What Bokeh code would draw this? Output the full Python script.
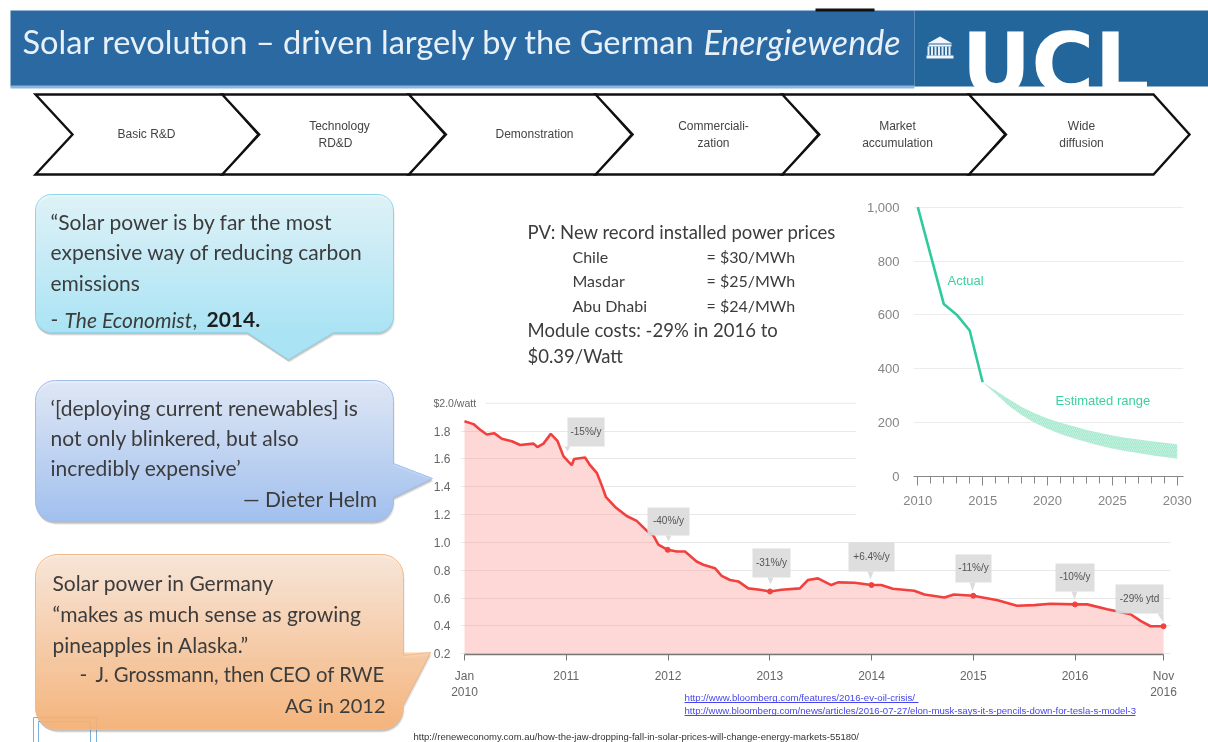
from bokeh.plotting import figure
from bokeh.models import Range1d, FixedTicker
from bokeh.core.properties import value
from bokeh.embed import file_html
from bokeh.resources import INLINE
import math

# ---------- data ----------
price_years = [2010.00,2010.088,2010.154,2010.219,2010.291,2010.367,2010.465,2010.547,2010.678,2010.717,2010.776,2010.848,2010.913,2010.972,
 2011.021,2011.054,2011.077,2011.185,2011.234,2011.300,2011.349,2011.391,2011.480,2011.594,2011.692,2011.790,2011.856,2011.905,2011.997,
 2012.085,2012.167,2012.281,2012.347,2012.461,2012.527,2012.609,2012.691,2012.789,2012.903,2013.002,2013.116,2013.296,2013.376,2013.474,2013.605,2013.67,2013.833,
 2014.0,2014.095,2014.21,2014.42,2014.52,2014.716,2014.81,2015.0,2015.24,2015.43,2015.6,2015.76,2016.0,2016.12,2016.317,2016.546,2016.644,2016.742,2016.87]
price_values = [1.87,1.85,1.81,1.775,1.785,1.745,1.727,1.70,1.71,1.685,1.71,1.78,1.73,1.62,
 1.58,1.555,1.60,1.61,1.555,1.50,1.41,1.325,1.255,1.19,1.155,1.085,1.05,0.985,0.947,
 0.935,0.935,0.863,0.84,0.815,0.76,0.73,0.72,0.67,0.66,0.648,0.66,0.67,0.73,0.742,0.694,0.713,0.71,
 0.694,0.694,0.667,0.653,0.626,0.605,0.626,0.617,0.585,0.545,0.55,0.56,0.555,0.555,0.52,0.484,0.436,0.398,0.398]
dot_years = [2011.997,2013.002,2014.0,2015.0,2016.0,2016.87]
dot_values = [0.947,0.648,0.694,0.617,0.555,0.398]
price_ticks = [2010,2011,2012,2013,2014,2015,2016,2016.87]
price_tick_labels = ["Jan\n2010","2011","2012","2013","2014","2015","2016","Nov\n2016"]
price_y_ticks = [0.2,0.4,0.6,0.8,1.0,1.2,1.4,1.6,1.8]
price_callouts = ["-15%/y","-40%/y","-31%/y","+6.4%/y","-11%/y","-10%/y","-29% ytd"]

cost_years = [2010,2012,2013,2014,2015]
cost_values = [1000,641,601,542,350]
range_years = list(range(2015,2031))
range_upper = [350,319,288,258,235,215,200,187,173,162,152,144,137,131,125,120]
range_lower = [350,307,264,228,200,177,158,142,128,115,104,95,87,79,72,66]
cost_x_ticks = [2010,2015,2020,2025,2030]
cost_y_ticks = [0,200,400,600,800,1000]

stages = [["Basic R&D"],["Technology","RD&D"],["Demonstration"],["Commerciali-","zation"],["Market","accumulation"],["Wide","diffusion"]]

# ---------- slide canvas ----------
SANS = value("Lato")
ARIAL = value("Liberation Sans")
BLUR = "blur(0.55px)"
bg = figure(width=1208, height=742, x_range=Range1d(0,1208), y_range=Range1d(742,0),
            toolbar_location=None, output_backend="svg", min_border=0, outline_line_color=None,
            x_axis_location=None, y_axis_location=None,
            styles={"position":"absolute","left":"0px","top":"0px","filter":BLUR})
bg.grid.visible = False

def hexlerp(a,b,t):
    ca=[int(a[i:i+2],16) for i in (1,3,5)]; cb=[int(b[i:i+2],16) for i in (1,3,5)]
    return "#%02x%02x%02x"%tuple(round(x+(y-x)*t) for x,y in zip(ca,cb))

def rrect(x0,y0,x1,y1,r,tail=None,side=None):
    pts=[]
    for cx,cy,a0 in ((x1-r,y0+r,-90),(x1-r,y1-r,0),(x0+r,y1-r,90),(x0+r,y0+r,180)):
        if side=="right" and a0==0: pts+=tail
        for k in range(9):
            a=math.radians(a0+k*90/8)
            pts.append((cx+r*math.cos(a),cy+r*math.sin(a)))
        if side=="bottom" and a0==0: pts+=tail
    return pts

def span(pts,y):
    xs=[]
    n=len(pts)
    for i in range(n):
        (ax,ay),(bx,by)=pts[i],pts[(i+1)%n]
        if (ay<=y<by) or (by<=y<ay):
            xs.append(ax+(y-ay)/(by-ay)*(bx-ax))
    return (min(xs),max(xs)) if xs else None

def bubble(x0,y0,x1,y1,r,ctop,cbot,edge,tail,side):
    pts=rrect(x0,y0,x1,y1,r,tail,side)
    px=[p[0] for p in pts]; py=[p[1] for p in pts]
    bg.patch([a+1 for a in px],[b+3 for b in py],fill_color="#777777",fill_alpha=0.18,line_color=None)
    bg.patch([a for a in px],[b+2 for b in py],fill_color="#555555",fill_alpha=0.25,line_color=None)
    ymax=int(max(py))+1
    L,R,T,B,C=[],[],[],[],[]
    for y in range(int(y0),ymax):
        s=span(pts,y+0.5)
        if not s: continue
        L.append(s[0]);R.append(s[1]);T.append(y);B.append(y+1.2)
        C.append(hexlerp(ctop,cbot,min(1,(y-y0)/(y1-y0))))
    bg.quad(left=L,right=R,top=T,bottom=B,fill_color=C,line_color=None)
    bg.patch(px,py,fill_color=None,line_color=edge,line_width=1)

def txt(x,y,s,size,color="#3c3c3c",font=SANS,style="normal",align="left"):
    dy=-1.5 if font is SANS else 0
    bg.text([x],[y+dy],text=[s],text_font=font,text_font_size=f"{size}px",text_color=color,
            text_font_style=style,text_align=align,text_baseline="middle")

# header
bg.quad(left=[10],right=[914],top=[10],bottom=[86],fill_color="#2b69a3",line_color=None)
bg.quad(left=[914],right=[1208],top=[10],bottom=[86],fill_color="#23669b",line_color=None)
bg.quad(left=[10],right=[914],top=[85],bottom=[88],fill_color="#8fb6d8",line_color=None)
bg.quad(left=[815],right=[874],top=[8],bottom=[11],fill_color="#111111",line_color=None)
# UCL logo
bg.text([961],[63],text=["UCL"],text_font=value("DejaVu Sans"),text_font_style="bold",text_font_size="86px",
        text_color="#ffffff",text_baseline="alphabetic")
bg.quad(left=[914],right=[1208],top=[87],bottom=[93],fill_color="#ffffff",line_color=None)
# logo building
bg.patch([927,939.5,952],[43,36,43],fill_color="#f2f6fa",line_color=None)
bg.quad(left=[928],right=[951],top=[44],bottom=[46],fill_color="#f2f6fa",line_color=None)
bg.quad(left=[927+i*3.5 for i in range(7)],right=[929+i*3.5 for i in range(7)],top=[46]*7,bottom=[55]*7,fill_color="#e6eef5",line_color=None)
bg.quad(left=[926],right=[953],top=[55],bottom=[58],fill_color="#f2f6fa",line_color=None)
# title
txt(22,42,"Solar revolution – driven largely by the German",32.6,color="#e9f1f8")
txt(703,42,"Energiewende",34,color="#e9f1f8",style="italic")

# chevrons
for i,lines in enumerate(stages):
    s=35+i*186.7
    xs=[s,s+187.5,s+223,s+187.5,s,s+37]
    ys=[94,94,134,174,174,134]
    if i==5:
        xs=[s,1153,1189,1153,s,s+37]
    bg.patch(xs,ys,fill_color="#ffffff",line_color="#111111",line_width=2.4,line_join="miter")
centers=[146,339,534,713,897,1081]
for c,lines in zip(centers,stages):
    if len(lines)==1:
        txt(c,133.5,lines[0],12,color="#444444",font=ARIAL,align="center")
    else:
        txt(c,125.5,lines[0],12,color="#444444",font=ARIAL,align="center")
        txt(c if lines[1]!="RD&D" else c-4,142.5,lines[1],12,color="#444444",font=ARIAL,align="center")

# small shapes, bottom left
bg.quad(left=[33,38],right=[96,90],top=[717,721],bottom=[748,748],fill_color=None,line_color="#7fb0dc",line_width=1)

# speech bubbles
bubble(35,194,393,332,16,"#e3f8fe","#a6e8fb","#8fd4e6",[(333,332),(288,359),(247,332)],"bottom")
bubble(35,380,393,521,20,"#e3ecfc","#9cbff4","#a0bce8",[(393,463),(432,478),(393,497)],"right")
bubble(35,554,403,729,22,"#feeadb","#fbb272","#f2b98a",[(403,655),(430,652),(400,710)],"right")

BT=21
txt(50,222,"“Solar power is by far the most",BT)
txt(50,252,"expensive way of reducing carbon",BT)
txt(50,283,"emissions",BT)
txt(50,320,"-",BT)
txt(64,320,"The Economist",BT,style="italic")
txt(192,320,",",BT)
txt(206,320,"2014.",BT,style="bold",color="#1e1e1e")

txt(50,408,"‘[deploying current renewables] is",BT)
txt(50,438,"not only blinkered, but also",BT)
txt(50,468,"incredibly expensive’",BT)
txt(377,499,"— Dieter Helm",BT,align="right")

txt(52,583,"Solar power in Germany",BT)
txt(52,614,"“makes as much sense as growing",BT)
txt(52,645,"pineapples in Alaska.”",BT)
txt(79,675,"-",BT)
txt(95,675,"J. Grossmann, then CEO of RWE",20.3)
txt(385,706,"AG in 2012",20,align="right")

# centre text
txt(527,233,"PV: New record installed power prices",18.5)
for lab,val,y in (("Chile","= $30/MWh",257),("Masdar","= $25/MWh",281),("Abu Dhabi","= $24/MWh",306)):
    txt(572,y,lab,16); txt(706,y,val,16)
txt(527,331,"Module costs: -29% in 2016 to",18.5)
txt(527,357,"$0.39/Watt",18.5)

# links
link="#4646f0"
txt(684,697,"http://www.bloomberg.com/features/2016-ev-oil-crisis/",9.7,color=link,font=ARIAL)
txt(684,710,"http://www.bloomberg.com/news/articles/2016-07-27/elon-musk-says-it-s-pencils-down-for-tesla-s-model-3",9.6,color=link,font=ARIAL)
bg.segment(x0=[684,684],y0=[702,715],x1=[918,1135],y1=[702,715],line_color=link,line_width=1)
txt(413,736,"http://reneweconomy.com.au/how-the-jaw-dropping-fall-in-solar-prices-will-change-energy-markets-55180/",9.5,color="#333333",font=ARIAL)
txt(433,402,"$2.0/watt",10.5,color="#666666",font=ARIAL)

# ---------- price chart ----------
C1L,C1T,C1R,C1B=420,392,1180,705
PXY=101.75; PPY=139.2
def X1(px): return 2010+(px-464)/PXY
def Y1(py): return 0.195+(654-py)/PPY
p1=figure(width=C1R-C1L,height=C1B-C1T,x_range=Range1d(X1(460),X1(1170)),y_range=Range1d(Y1(654),Y1(395)),
          toolbar_location=None,output_backend="svg",background_fill_color=None,border_fill_color=None,
          outline_line_color=None,min_border_left=40,min_border_right=10,min_border_top=3,min_border_bottom=51,
          styles={"position":"absolute","left":f"{C1L}px","top":f"{C1T}px","filter":BLUR})
p1.xgrid.visible=False
p1.ygrid.ticker=FixedTicker(ticks=price_y_ticks)
p1.ygrid.grid_line_color="#e8e8e8"
p1.ygrid.bounds=(2010,2016.87)
p1.segment(x0=[X1(485)],y0=[2.0],x1=[2016.87],y1=[2.0],line_color="#e8e8e8",line_width=1)
p1.xaxis.ticker=FixedTicker(ticks=price_ticks)
p1.xaxis.major_label_overrides=dict(zip(price_ticks,price_tick_labels))
p1.xaxis.bounds=(2010,2016.87)
p1.xaxis.axis_line_color="#777777"; p1.xaxis.axis_line_width=1.5
p1.xaxis.major_tick_line_color="#777777"; p1.xaxis.major_tick_out=6; p1.xaxis.major_tick_in=0
p1.xaxis.minor_tick_line_color=None
p1.xaxis.major_label_text_font="Liberation Sans"; p1.xaxis.major_label_text_font_size="12px"
p1.xaxis.major_label_text_color="#666666"; p1.xaxis.major_label_standoff=8
p1.yaxis.ticker=FixedTicker(ticks=price_y_ticks)
p1.yaxis.major_label_overrides={v:("%.1f"%v) for v in price_y_ticks}
p1.yaxis.axis_line_color=None; p1.yaxis.major_tick_line_color=None; p1.yaxis.minor_tick_line_color=None
p1.yaxis.major_label_text_font="Liberation Sans"; p1.yaxis.major_label_text_font_size="12px"
p1.yaxis.major_label_text_color="#666666"; p1.yaxis.major_label_standoff=4
p1.varea(x=price_years,y1=[0.2]*len(price_years),y2=price_values,fill_color="#f9908a",fill_alpha=0.35)
p1.line(price_years,price_values,line_color="#f2403f",line_width=2.6)
p1.scatter(dot_years,dot_values,size=5,color="#f2403f")
boxes=[(567,604,417,446,567,451),(647,689,507,535,668,541),(752,790,548,577,770,584),(848,894,542,571,870,579),
       (955,991,554,582,972,591),(1055,1094,563,591,1074,599),(1115,1163,584,613,1163,622)]
for (l,r,t,b,tx,ty),lab in zip(boxes,price_callouts):
    p1.quad(left=[X1(l)],right=[X1(r)],top=[Y1(t)],bottom=[Y1(b)],fill_color="#dcdcdc",fill_alpha=0.93,line_color=None)
    p1.patch([X1(tx-3 if tx<r-3 else r-6),X1(tx),X1(tx+3 if tx<r-3 else r)],[Y1(b),Y1(ty),Y1(b)],fill_color="#dcdcdc",line_color=None)
    p1.text([X1((l+r)/2)],[Y1((t+b)/2-1)],text=[lab],text_font=ARIAL,text_font_size="10px",text_color="#555555",
            text_align="center",text_baseline="middle")

# ---------- cost chart ----------
C2L,C2T,C2R,C2B=855,195,1200,522
CX=12.97; CY=0.2693
def X2(px): return 2010+(px-917.3)/CX
p2=figure(width=C2R-C2L,height=C2B-C2T,x_range=Range1d(X2(913),X2(1183)),y_range=Range1d(0,(476-200)/CY),
          toolbar_location=None,output_backend="svg",background_fill_color="#ffffff",border_fill_color="#ffffff",
          outline_line_color=None,min_border_left=58,min_border_right=17,min_border_top=5,min_border_bottom=46,
          styles={"position":"absolute","left":f"{C2L}px","top":f"{C2T}px","filter":BLUR})
p2.xgrid.visible=False
p2.ygrid.ticker=FixedTicker(ticks=cost_y_ticks[1:])
p2.ygrid.grid_line_color="#ececec"
p2.xaxis.ticker=FixedTicker(ticks=cost_x_ticks,minor_ticks=list(range(2010,2031)))
p2.xaxis.axis_line_color="#888888"; p2.xaxis.axis_line_width=1.2
p2.xaxis.major_tick_line_color="#888888"; p2.xaxis.major_tick_out=9; p2.xaxis.major_tick_in=0
p2.xaxis.minor_tick_line_color="#888888"; p2.xaxis.minor_tick_out=7; p2.xaxis.minor_tick_in=0
p2.xaxis.major_label_text_font="Liberation Sans"; p2.xaxis.major_label_text_font_size="13px"
p2.xaxis.major_label_text_color="#858585"; p2.xaxis.major_label_standoff=10
p2.xaxis.formatter.use_scientific=False
p2.yaxis.ticker=FixedTicker(ticks=cost_y_ticks)
p2.yaxis.major_label_overrides={v:f"{v:,}" for v in cost_y_ticks}
p2.yaxis.axis_line_color=None; p2.yaxis.major_tick_line_color=None; p2.yaxis.minor_tick_line_color=None
p2.yaxis.major_label_text_font="Liberation Sans"; p2.yaxis.major_label_text_font_size="13px"
p2.yaxis.major_label_text_color="#858585"; p2.yaxis.major_label_standoff=8
p2.varea(x=range_years,y1=range_lower,y2=range_upper,fill_color="#a5e9cf",hatch_pattern="right_diagonal_line",
         hatch_color="#ffffff",hatch_alpha=0.35,hatch_scale=4,hatch_weight=1)
p2.line(cost_years,cost_values,line_color="#2fcb9c",line_width=2.6)
p2.text([X2(947)],[(476-280)/CY],text=["Actual"],text_font=ARIAL,text_font_size="13px",text_color="#3dd0a2",text_baseline="middle")
p2.text([X2(1055)],[(476-400)/CY],text=["Estimated range"],text_font=ARIAL,text_font_size="13px",text_color="#3dd0a2",text_baseline="middle")

open("out.html","w").write(file_html([bg,p1,p2],INLINE))
